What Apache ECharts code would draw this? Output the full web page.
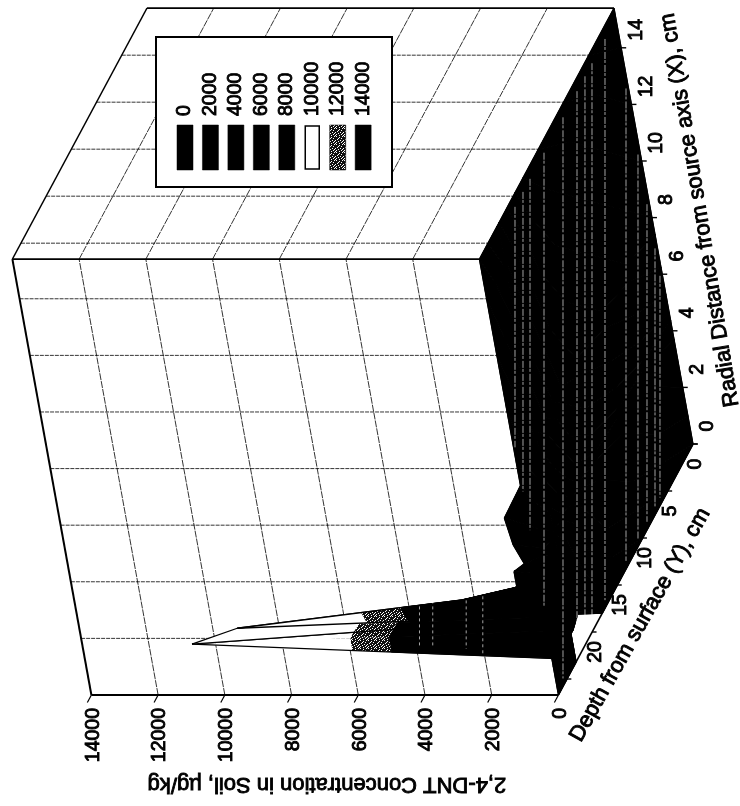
<!DOCTYPE html>
<html><head><meta charset="utf-8">
<style>html,body{margin:0;padding:0;background:#fff}#c{width:740px;height:806px}</style>
<script src="https://cdn.jsdelivr.net/npm/echarts@6/dist/echarts.min.js"></script>
</head><body><div id="c"></div>
<script>
// ---- data ----
const xNodes = [0,1,2,3.7,4.36,4.64,5.3,6.25,7.4,8,10,12,14,15.4];
const yNodes = [0,5,10,15,18,19.6,21.3,22.8,23.2,25,26.7];
const zY0    = [0,0,0,0,0,0,0,0,0,0,0,0,0,0];
const zY5    = [0,0,0,0,0,0,0,0,0,0,0,0,0,0];
const zY10   = [0,0,0,0,0,0,0,0,0,0,0,0,0,0];
const zY15   = [0,0,0,0,0,0,0,0,0,0,0,0,0,0];
const zY18   = [0,0,0,0,0,0,0,0,0,0,0,0,0,0];
const zY19_6 = [10700,3800,0,0,0,0,0,0,0,0,0,0,0,0];
const zY21_3 = [11800,100,1800,0,0,0,0,0,0,0,0,0,0,0];
const zY22_8 = [840,0,0,0,0,0,0,0,0,0,0,0,0,0];
const zY23_2 = [0,0,0,0,0,0,0,0,0,0,0,0,0,0];
const zY25   = [0,0,0,0,0,0,0,0,0,0,0,0,0,0];
const zY26_7 = [0,0,0,660,660,310,540,660,0,0,0,0,0,0];
const zRows = [zY0,zY5,zY10,zY15,zY18,zY19_6,zY21_3,zY22_8,zY23_2,zY25,zY26_7];
const zTicks = [0,2000,4000,6000,8000,10000,12000,14000];
const xTicks = [0,2,4,6,8,10,12,14];
const yTicks = [0,5,10,15,20,25];
const yTickLabels = ['0','5','10','15','20',''];
const legendLabels = ['0','2000','4000','6000','8000','10000','12000','14000'];
const legendFills = ['k','k','k','k','k','w','d','k'];
const bandBreaks = [0,5700,6900,14000];
const bandFills = ['k','d','w'];
// scan seams through the dark surface, as a position along the concentration scale
const seams = [5336,5096,4886,4466,3897,3477,3238,3028,2638,2008,1649,1379,1139,990];
// seams in the foot of the spike: scale position, depth at top, depth at bottom
const spikeSeams = [[6300,16.2,22.3],[7800,16,21.6],[8200,16,21.6],[6800,16,21.8]];
const titleZ = '2,4-DNT Concentration in Soil, \u00b5g/kg';
const titleX = 'Radial Distance from source axis (X), cm';
const titleY = 'Depth from surface (Y), cm';

// ---- oblique projection ----
const P = {ox:693, oy:444, xx:-5.13, xy:-28.3, yx:-5.04, yy:9.4, zx:-0.03336};
const Xmax = xNodes[xNodes.length-1], Ymax = yNodes[yNodes.length-1], Zmax = 14000;
const proj = (X,Y,Z)=>[P.ox+P.xx*X+P.yx*Y+P.zx*Z, P.oy+P.xy*X+P.yy*Y];

// dither tile
const tile = document.createElement('canvas'); tile.width=tile.height=8;
(function(){const g=tile.getContext('2d');g.fillStyle='#111';g.fillRect(0,0,8,8);g.fillStyle='#fff';
 [[0,0],[3,1],[6,0],[1,3],[5,2],[7,4],[2,5],[4,4],[0,6],[5,6],[3,7],[7,7],[2,2],[6,5]].forEach(p=>g.fillRect(p[0],p[1],1,1));})();
const paint = k => k==='k' ? '#000' : k==='w' ? '#fff' : {image:tile, repeat:'repeat'};

const txt = (x,y,rot,text,align,size)=>({type:'text',x,y,rotation:rot,silent:true,
  style:{text,fontSize:size||19.5,fontFamily:'"Liberation Sans", Arial, sans-serif',fill:'#000',stroke:'#000',lineWidth:0.9,align:align||'center',verticalAlign:'middle'}});
const ln = (a,b,w,dash)=>({type:'line',silent:true,shape:{x1:a[0],y1:a[1],x2:b[0],y2:b[1]},
  style:{stroke:'#000',lineWidth:w,lineDash:dash||null}});

// clip a triangle to a z band
function clip(poly,lo,hi){
  const cut=(pts,inside,lim)=>{const out=[];for(let i=0;i<pts.length;i++){const a=pts[i],b=pts[(i+1)%pts.length];
    const ia=inside(a[2]),ib=inside(b[2]);
    if(ia)out.push(a);
    if(ia!==ib){const t=(lim-a[2])/(b[2]-a[2]);out.push([a[0]+t*(b[0]-a[0]),a[1]+t*(b[1]-a[1]),lim]);}}
    return out;};
  let r=cut(poly,z=>z>=lo,lo); if(r.length) r=cut(r,z=>z<=hi,hi); return r;
}

// back to front cell order
const cells=[];
for(let j=yNodes.length-2;j>=0;j--) for(let i=xNodes.length-2;i>=0;i--) cells.push([i,j]);

function renderWalls(params,api){
  const c=p=>api.coord(p); const kids=[]; const d=[4,1];
  xTicks.forEach(t=>{ if(t===0) return;
    kids.push(ln(c(proj(t,Ymax,Zmax)),c(proj(t,Ymax,0)),0.8,d)); });
  yTicks.slice(1).forEach(t=>{ kids.push(ln(c(proj(Xmax,t,Zmax)),c(proj(Xmax,t,0)),0.8,d)); });
  zTicks.slice(1,-1).forEach(t=>{
    kids.push(ln(c(proj(0,Ymax,t)),c(proj(Xmax,Ymax,t)),0.8,[7,1]));
    kids.push(ln(c(proj(Xmax,Ymax,t)),c(proj(Xmax,0,t)),0.8,[7,1]));
  });
  kids.push(ln(c(proj(Xmax,Ymax,Zmax)),c(proj(Xmax,Ymax,0)),1.8));
  kids.push(ln(c(proj(Xmax,0,Zmax)),c(proj(Xmax,0,0)),1.8));
  kids.push(ln(c(proj(Xmax,Ymax,Zmax)),c(proj(Xmax,0,Zmax)),1.4));
  kids.push(ln(c(proj(0,Ymax,Zmax)),c(proj(Xmax,Ymax,Zmax)),2));
  kids.push(ln(c(proj(0,Ymax,0)),c(proj(0,Ymax,Zmax)),2));
  return {type:'group',children:kids};
}

function renderCell(params,api){
  const i=api.value(0), j=api.value(1);
  const node=(a,b)=>{const Z=zRows[b][a];const q=api.coord(proj(xNodes[a],yNodes[b],Z));return [q[0],q[1],Z];};
  const A=node(i,j),B=node(i+1,j),C=node(i+1,j+1),D=node(i,j+1);
  const kids=[];
  [[A,B,C],[A,C,D]].forEach(tri=>{
    bandFills.forEach((f,k)=>{
      const poly=clip(tri,bandBreaks[k],bandBreaks[k+1]);
      if(poly.length>2) kids.push({type:'polygon',silent:true,shape:{points:poly.map(p=>[p[0],p[1]])},
        style:{fill:paint(f),stroke:k===0?'#000':null,lineWidth:k===0?1:0}});
    });
  });
  [[A,B],[B,C],[C,D],[D,A]].forEach(e=>kids.push(ln(e[0],e[1],1.3)));
  return {type:'group',children:kids};
}

function renderSeams(params,api){
  const s=api.value(0);
  const x=P.ox+P.zx*s;
  // vertical extent of the floor parallelogram at this screen column
  const corners=[proj(0,0,0),proj(Xmax,0,0),proj(Xmax,Ymax,0),proj(0,Ymax,0)];
  const ys=[];
  corners.forEach((a,k)=>{const b=corners[(k+1)%4];
    if((a[0]-x)*(b[0]-x)<=0&&a[0]!==b[0]) ys.push(a[1]+(x-a[0])/(b[0]-a[0])*(b[1]-a[1]));});
  if(ys.length<2) return;
  const top=api.coord([x,Math.min.apply(null,ys)+14]), bot=api.coord([x,Math.max.apply(null,ys)-8]);
  return {type:'line',silent:true,shape:{x1:top[0],y1:top[1],x2:bot[0],y2:bot[1]},
    style:{stroke:'#fff',lineWidth:0.8,opacity:0.8,lineDash:[7,1,3,2]}};
}

function renderSpikeSeams(params,api){
  const s=api.value(0), a=api.coord([P.ox+P.zx*s,P.oy+P.yy*api.value(1)]), b=api.coord([P.ox+P.zx*s,P.oy+P.yy*api.value(2)]);
  return {type:'line',silent:true,shape:{x1:a[0],y1:a[1],x2:b[0],y2:b[1]},
    style:{stroke:'#fff',lineWidth:0.8,opacity:0.8,lineDash:[3,3]}};
}

function renderAxes(params,api){
  const c=p=>api.coord(p); const kids=[];
  kids.push(ln(c(proj(0,0,0)),c(proj(0,Ymax,0)),1.6));
  zTicks.forEach(t=>{
    const a=c(proj(0,Ymax,t)), b=c(proj(0,Ymax+0.8,t));
    kids.push(ln(a,b,1.2));
    kids.push(txt(a[0]+2,a[1]+13,Math.PI/2,String(t),'right'));
  });
  xTicks.forEach(t=>{
    const a=c(proj(t,0,0)), b=c(proj(t,0,-150));
    kids.push(ln(a,b,1.4));
    kids.push(txt(a[0]+15,a[1]-18,Math.PI/2,String(t)));
  });
  yTicks.forEach((t,k)=>{
    const a=c(proj(0,t,0)), b=c(proj(0,t,-130));
    kids.push(ln(a,b,1.4));
    if(yTickLabels[k]) kids.push(txt(a[0]+3,a[1]+20,Math.PI/2,yTickLabels[k]));
  });
  const mid=(p,q)=>[(p[0]+q[0])/2,(p[1]+q[1])/2];
  const zc=c(proj(0,Ymax,Zmax*0.5));
  kids.push(txt(zc[0]+2,zc[1]+89,Math.PI,titleZ,'center',22));
  const xc=mid(c(proj(0,0,0)),c(proj(Xmax,0,0)));
  kids.push(txt(xc[0]+46.5,xc[1]-16,Math.PI*0.552,titleX,'center',22));
  const yc=mid(c(proj(0,0,0)),c(proj(0,Ymax,0)));
  kids.push(txt(yc[0]+14.5,yc[1]+55.5,Math.PI*0.337,titleY,'center',22));
  return {type:'group',children:kids};
}

function renderLegend(params,api){
  const o=api.coord([156,37]), e=api.coord([392,187]);
  const kids=[{type:'rect',silent:true,shape:{x:o[0],y:o[1],width:e[0]-o[0],height:e[1]-o[1]},
    style:{fill:'#fff',stroke:'#000',lineWidth:2}}];
  legendLabels.forEach((l,k)=>{
    const x=o[0]+21+k*25.45;
    const w=legendFills[k]==='w';
    kids.push({type:'rect',silent:true,shape:{x:x+(w?1:0),y:o[1]+88+(w?1:0),width:16-(w?2:0),height:45-(w?2:0)},
      style:{fill:paint(legendFills[k]),stroke:'#000',lineWidth:w?1.5:0.5}});
    kids.push(txt(x+8,o[1]+79,Math.PI/2,l,'left'));
  });
  return {type:'group',children:kids};
}

const chart=echarts.init(document.getElementById('c'),null,{renderer:'canvas'});
const custom=(name,renderItem,data,z)=>({type:'custom',name,renderItem,data,z,clip:false,silent:true,animation:false,
  encode:{x:0,y:1}});
chart.setOption({
  animation:false,backgroundColor:'#fff',
  grid:{left:0,right:0,top:0,bottom:0},
  xAxis:{type:'value',min:0,max:740,show:false},
  yAxis:{type:'value',min:0,max:806,inverse:true,show:false},
  tooltip:{show:false},
  series:[
    custom('walls',renderWalls,[[0,0]],1),
    custom('surface',renderCell,cells,2),
    custom('seams',renderSeams,seams.map(s=>[s,0]),3),
    custom('spikeSeams',renderSpikeSeams,spikeSeams,3),
    custom('axes',renderAxes,[[0,0]],4),
    custom('legend',renderLegend,[[0,0]],5)
  ]
});
</script></body></html>
